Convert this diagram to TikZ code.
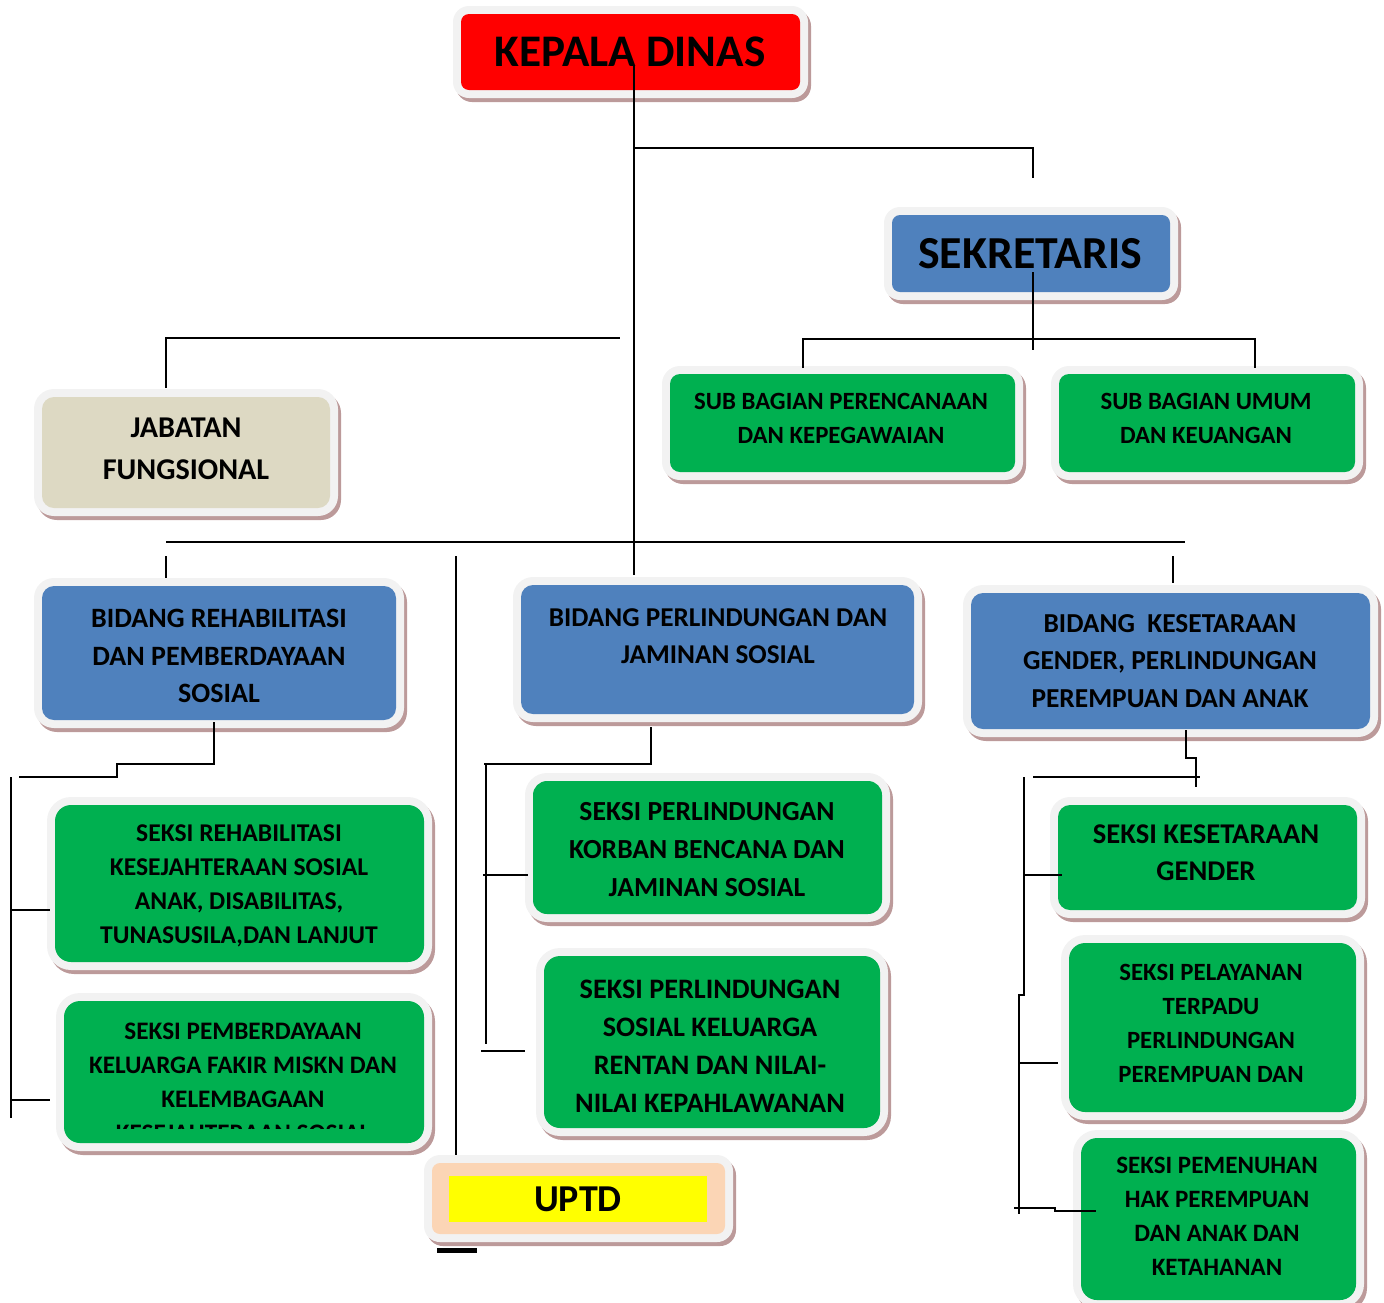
\documentclass[tikz,border=0pt]{standalone}
\usepackage{fontspec}
\setmainfont{Carlito}
\usetikzlibrary{fit}
\definecolor{framec}{HTML}{F2F2F2}
\definecolor{shadowc}{HTML}{BC9A9A}
\definecolor{redc}{HTML}{FF0000}
\definecolor{bluec}{HTML}{4F81BD}
\definecolor{greenc}{HTML}{00B050}
\definecolor{tanc}{HTML}{DDD9C3}
\definecolor{peachc}{HTML}{FBD5B5}
\definecolor{yellowc}{HTML}{FFFF00}
\newcommand\fsz[2]{\fontsize{#1}{#2}\selectfont\bfseries}
\newcommand\orgbox[7]{%
  \fill[shadowc,rounded corners=#6+4pt] ({#2+3},{#3+4}) rectangle ({#4+3},{#5+4});
  \fill[framec,rounded corners=#6+4pt] (#2,#3) rectangle (#4,#5);
  \fill[#7,rounded corners=#6] ({#2+8},{#3+8}) rectangle ({#4-8},{#5-8});
  \node[fit={(#2,#3) (#4,#5)},inner sep=0pt] (#1) {};
}
\tikzset{
  txt/.style={align=center,inner sep=0pt,text=black},
  conn/.style={line width=1pt,draw=black},
}
\begin{document}
\begin{tikzpicture}[x=0.5pt,y=-0.5pt]
\useasboundingbox (0,0) rectangle (1384,1302);
% ---- boxes
\orgbox{kd}{453}{6}{808}{98}{4pt}{redc}
\orgbox{sek}{884}{207}{1178}{300}{4pt}{bluec}
\orgbox{jf}{34}{389}{338}{516}{6pt}{tanc}
\orgbox{sba}{662}{366}{1023}{480}{5pt}{greenc}
\orgbox{sbb}{1051}{366}{1363}{480}{5pt}{greenc}
\orgbox{bra}{34}{578}{404}{728}{6pt}{bluec}
\orgbox{brb}{513}{577}{922}{722}{6pt}{bluec}
\orgbox{brc}{963}{585}{1378}{737}{6pt}{bluec}
\orgbox{sra}{47}{797}{432}{970}{8pt}{greenc}
\orgbox{srb}{56}{993}{432}{1151}{8pt}{greenc}
\orgbox{spa}{525}{773}{890}{922}{7pt}{greenc}
\orgbox{spb}{536}{948}{888}{1136}{8pt}{greenc}
\orgbox{upt}{424}{1155}{733}{1242}{4pt}{peachc}
\fill[yellowc] (449,1176) rectangle (707,1222);
\orgbox{ska}{1050}{797}{1365}{918}{6pt}{greenc}
\orgbox{skb}{1061}{935}{1364}{1120}{8pt}{greenc}
\orgbox{skc}{1073}{1130}{1364}{1308}{8pt}{greenc}
% ---- texts
\node[txt,font=\fsz{22.6}{26}] (tkd) at (630,52) {KEPALA DINAS};
\node[txt,font=\fsz{22.9}{26}] (tsek) at (1030,254) {SEKRETARIS};
\node[txt,font=\fsz{15.1}{21}] (tjf) at (186,449) {JABATAN\\FUNGSIONAL};
\node[txt,font=\fsz{12.4}{17}] (tsba) at (841,418) {SUB BAGIAN PERENCANAAN\\DAN KEPEGAWAIAN};
\node[txt,font=\fsz{12.4}{17}] (tsbb) at (1206,418) {SUB BAGIAN UMUM\\DAN KEUANGAN};
\node[txt,font=\fsz{14.0}{18.75}] (tbra) at (219,656) {BIDANG REHABILITASI\\DAN PEMBERDAYAAN\\SOSIAL};
\node[txt,font=\fsz{13.6}{18.75}] (tbrb) at (718,636) {BIDANG PERLINDUNGAN DAN\\JAMINAN SOSIAL};
\node[txt,font=\fsz{13.7}{18.75}] (tbrc) at (1170,661) {BIDANG\ \ KESETARAAN\\GENDER, PERLINDUNGAN\\PEREMPUAN DAN ANAK};
\node[txt,font=\fsz{12.8}{17}] (tsra) at (239,886) {SEKSI REHABILITASI\\KESEJAHTERAAN SOSIAL\\ANAK, DISABILITAS,\\TUNASUSILA,DAN LANJUT};
\begin{scope}
  \clip (56,993) rectangle (432,1128);
  \node[txt,font=\fsz{12.6}{17}] (tsrb) at (243,1082) {SEKSI PEMBERDAYAAN\\KELUARGA FAKIR MISKN DAN\\KELEMBAGAAN\\KESEJAHTERAAN SOSIAL};
\end{scope}
\node[txt,font=\fsz{13.8}{19}] (tspa) at (707,850) {SEKSI PERLINDUNGAN\\KORBAN BENCANA DAN\\JAMINAN SOSIAL};
\node[txt,font=\fsz{14.1}{19}] (tspb) at (710,1046) {SEKSI PERLINDUNGAN\\SOSIAL KELUARGA\\RENTAN DAN NILAI-\\NILAI KEPAHLAWANAN};
\node[txt,font=\fsz{19}{22}] (tupt) at (578,1199) {UPTD};
\node[txt,font=\fsz{14.3}{18.5}] (tska) at (1206,853) {SEKSI KESETARAAN\\GENDER};
\node[txt,font=\fsz{12.4}{17}] (tskb) at (1211,1023) {SEKSI PELAYANAN\\TERPADU\\PERLINDUNGAN\\PEREMPUAN DAN};
\node[txt,font=\fsz{12.5}{17}] (tskc) at (1217,1216) {SEKSI PEMENUHAN\\HAK PEREMPUAN\\DAN ANAK DAN\\KETAHANAN};
% ---- connectors
\coordinate (c1) at (634,65);
\draw[conn] (c1) -- (634,575);
\draw[conn] (634,148) -- (1033,148) -- (1033,178);
\draw[conn] (1033,272) -- (1033,350);
\draw[conn] (803,368) -- (803,339) -- (1255,339) -- (1255,368);
\draw[conn] (166,388) -- (166,338) -- (620,338);
\draw[conn] (166,542) -- (1185,542);
\draw[conn] (166,556) -- (166,578);
\draw[conn] (1173,556) -- (1173,583);
\draw[conn] (456,556) -- (456,1155);
\draw[conn] (214,722) -- (214,764) -- (117,764) -- (117,777) -- (19,777);
\draw[conn] (11,777) -- (11,1118);
\draw[conn] (11,910) -- (50,910);
\draw[conn] (11,1100) -- (50,1100);
\draw[conn] (651,727) -- (651,764) -- (484,764);
\draw[conn] (486,764) -- (486,1044);
\draw[conn] (483,875) -- (528,875);
\draw[conn] (481,1051) -- (525,1051);
\draw[conn] (1186,730) -- (1186,758) -- (1196,758) -- (1196,787);
\draw[conn] (1033,777) -- (1200,777);
\draw[conn] (1024,777) -- (1024,995) -- (1019,995) -- (1019,1214);
\draw[conn] (1024,875) -- (1062,875);
\draw[conn] (1019,1063) -- (1058,1063);
\draw[conn] (1014,1208) -- (1055,1208) -- (1055,1211) -- (1096,1211);
\draw[line width=2.5pt] (437,1250) -- (477,1250);
\end{tikzpicture}
\end{document}
